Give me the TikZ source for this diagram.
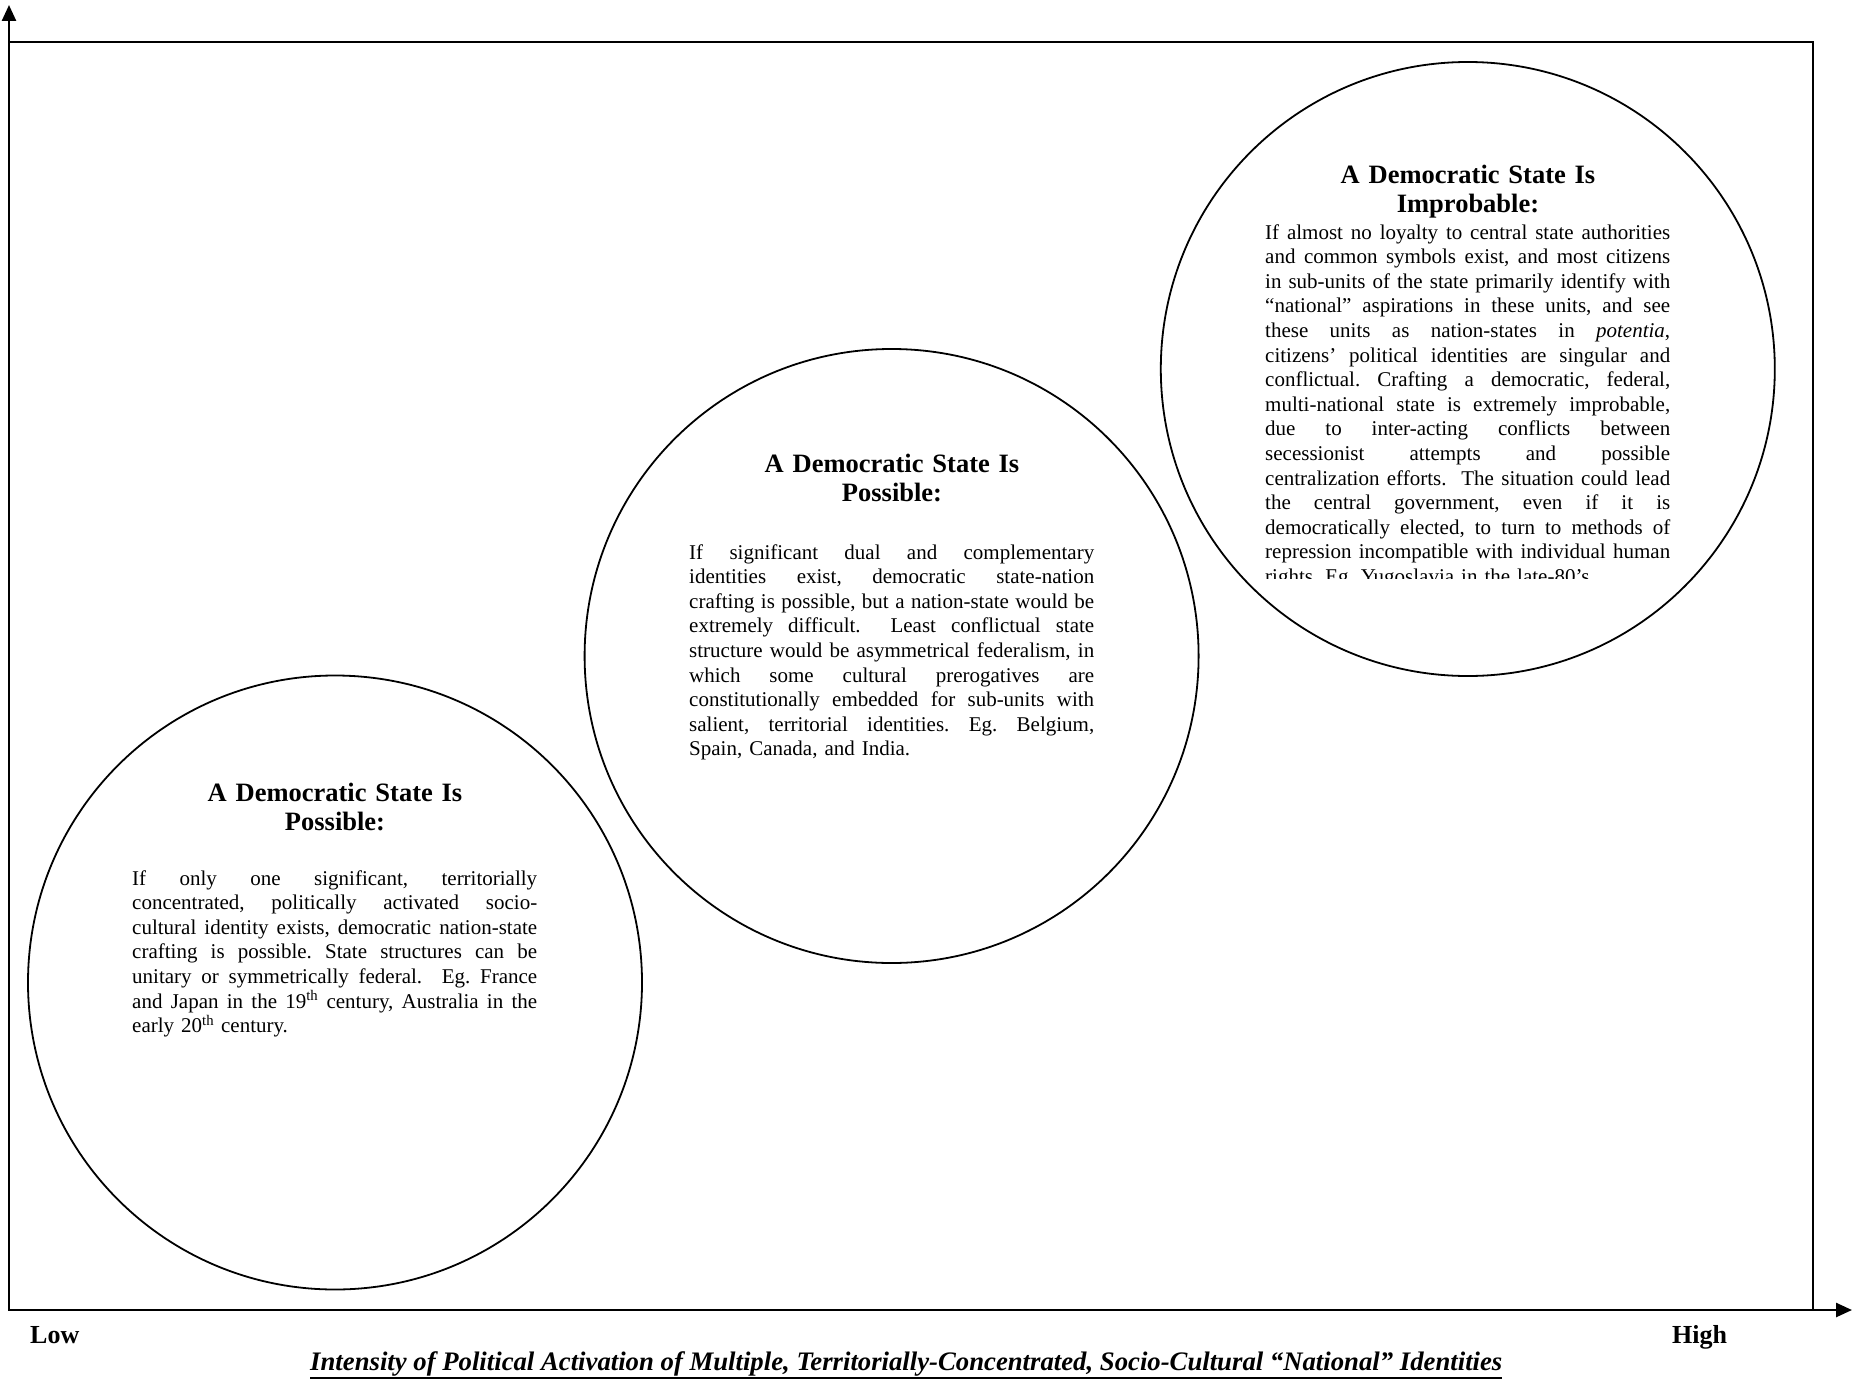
\documentclass[tikz,border=0pt]{standalone}
\usepackage{fontspec}
\usepackage{graphicx}
\setmainfont{Liberation Serif}
\usetikzlibrary{arrows.meta}
\newcommand{\jl}[1]{\leavevmode\hbox to 405pt{\spaceskip=0.25em plus 1fil minus 0.05em\xspaceskip=\spaceskip\relax #1}}
\frenchspacing
\begin{document}
\begin{tikzpicture}[x=1pt,y=-1pt,
  circ/.style={draw, line width=1.8pt, circle, minimum size=614pt, inner sep=0pt},
  ttl/.style={text width=405pt, align=center, inner sep=0pt, anchor=base, font=\fontsize{26.5}{29.5}\selectfont\bfseries},
  bodytext/.style={text width=405pt, align=left, inner sep=0pt, anchor=base west, font=\fontsize{21}{24.6}\selectfont},
  axislbl/.style={inner sep=0pt, anchor=base west, font=\fontsize{26}{30}\selectfont\bfseries},
  axisline/.style={line width=2.5pt, {Triangle[length=16pt,width=14pt]}-{Triangle[length=16pt,width=14pt]}},
  frameline/.style={line width=2pt}
]
\useasboundingbox (0,0) rectangle (1863,1381);
\coordinate (o) at (9,1310);
\coordinate (ytip) at (9,5);
\coordinate (xtip) at (1852,1310);
\coordinate (tl) at (9,42);
\coordinate (tr) at (1813,42);
\coordinate (br) at (1813,1310);
\draw[frameline] (tl) -- (tr) -- (br);
\draw[axisline] (ytip) -- (o) -- (xtip);

% circle 1
\node[circ] (c1) at (335,982.5) {};
\node[ttl] (t1) at (335,801) {A Democratic State Is\\Possible:};
\node[bodytext] (b1) at (132,885) {%
\jl{If only one significant, territorially}\\
\jl{concentrated, politically activated socio-}\\
\jl{cultural identity exists, democratic nation-state}\\
\jl{crafting is possible. State structures can be}\\
\jl{unitary or symmetrically federal.\ \ Eg. France}\\
\jl{and Japan in the 19\textsuperscript{th} century, Australia in the}\\
early 20\textsuperscript{th} century.};

% circle 2
\node[circ] (c2) at (891.6,656) {};
\node[ttl] (t2) at (892,472) {A Democratic State Is\\Possible:};
\node[bodytext] (b2) at (689,559) {%
\jl{If significant dual and complementary}\\
\jl{identities exist, democratic state-nation}\\
\jl{crafting is possible, but a nation-state would be}\\
\jl{extremely difficult.\ \ Least conflictual state}\\
\jl{structure would be asymmetrical federalism, in}\\
\jl{which some cultural prerogatives are}\\
\jl{constitutionally embedded for sub-units with}\\
\jl{salient, territorial identities. Eg. Belgium,}\\
Spain, Canada, and India.};

% circle 3
\node[circ] (c3) at (1467.8,369) {};
\node[ttl] (t3) at (1468,183) {A Democratic State Is\\Improbable:};
\begin{scope}
\clip (1200,0) rectangle (1750,578);
\node[bodytext] (b3) at (1265,239) {%
\jl{If almost no loyalty to central state authorities}\\
\jl{and common symbols exist, and most citizens}\\
\jl{in sub-units of the state primarily identify with}\\
\jl{“national” aspirations in these units, and see}\\
\jl{these units as nation-states in \textit{potentia},}\\
\jl{citizens’ political identities are singular and}\\
\jl{conflictual. Crafting a democratic, federal,}\\
\jl{multi-national state is extremely improbable,}\\
\jl{due to inter-acting conflicts between}\\
\jl{secessionist attempts and possible}\\
\jl{centralization efforts.\ \ The situation could lead}\\
\jl{the central government, even if it is}\\
\jl{democratically elected, to turn to methods of}\\
\jl{repression incompatible with individual human}\\
rights. Eg. Yugoslavia in the late-80’s.};
\end{scope}

% axis labels
\node[axislbl] (low) at (30,1343) {Low};
\node[axislbl] (high) at (1672,1343) {High};
\node[inner sep=0pt, anchor=base west] (xlabel) at (310,1370)
  {\resizebox{1192pt}{!}{\fontsize{22}{26}\selectfont\bfseries\itshape Intensity of Political Activation of Multiple, Territorially-Concentrated, Socio-Cultural “National” Identities}};
\draw[line width=2.7pt] ([yshift=-8pt]xlabel.base west) -- ([yshift=-8pt]xlabel.base east);
\end{tikzpicture}
\end{document}
